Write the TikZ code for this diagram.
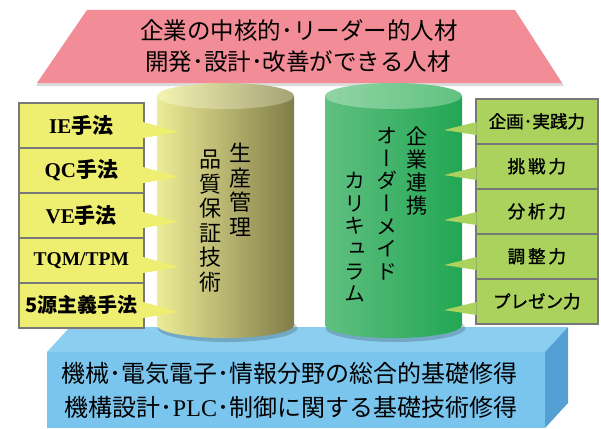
\documentclass[tikz,border=0pt]{standalone}
\usepackage{fontspec}
\setmainfont{Liberation Serif}
\newfontfamily\jp{Noto Sans CJK JP}
\newfontfamily\jpm{Noto Sans CJK JP}[FakeBold=1.3]
\newfontfamily\vjp{Noto Sans CJK JP}[RawFeature=+vert]
\usetikzlibrary{shadows,calc}
\definecolor{roofc}{RGB}{242,140,150}
\definecolor{lyel}{RGB}{238,238,112}
\definecolor{rgrn}{RGB}{170,210,92}
\definecolor{boxgray}{RGB}{120,120,120}
\definecolor{ybL}{RGB}{236,236,150}
\definecolor{ybM}{RGB}{212,208,128}
\definecolor{ybR}{RGB}{128,124,72}
\definecolor{ytL}{RGB}{244,244,178}
\definecolor{ytR}{RGB}{165,162,118}
\definecolor{gbL}{RGB}{96,192,128}
\definecolor{gbM}{RGB}{76,182,108}
\definecolor{gbR}{RGB}{34,166,84}
\definecolor{gtL}{RGB}{145,212,165}
\definecolor{gtR}{RGB}{96,194,128}
\definecolor{bfront}{RGB}{122,197,237}
\definecolor{btop}{RGB}{140,206,240}
\definecolor{bside}{RGB}{84,160,212}
\begin{document}
\begin{tikzpicture}[x=1pt,y=-1pt,
  lbox/.style={fill=lyel, draw=boxgray, line width=1.6pt, inner sep=0pt,
    minimum width=125pt, minimum height=45pt, anchor=north west,
    drop shadow={opacity=0.35, shadow xshift=1.5pt, shadow yshift=-1.5pt},
    font=\fontsize{21}{24}\selectfont\bfseries},
  rbox/.style={fill=rgrn, draw=boxgray, line width=1.6pt, inner sep=0pt,
    minimum width=122pt, minimum height=45pt, anchor=north west,
    drop shadow={opacity=0.35, shadow xshift=1.5pt, shadow yshift=-1.5pt},
    font=\jpm\fontsize{17.5}{20}\selectfont},
  vtext/.style={font=\vjp\fontsize{22}{24.5}\selectfont, align=center, inner sep=0pt, anchor=north},
  vtextg/.style={font=\vjp\fontsize{21}{22.7}\selectfont, align=center, inner sep=0pt, anchor=north},
  bigtext/.style={font=\jp\fontsize{23.5}{26}\selectfont, inner sep=0pt},
  basetext/.style={font=\jp\fontsize{24}{26}\selectfont, inner sep=0pt}
]
\useasboundingbox (0,0) rectangle (601,428);
\fill[white] (0,0) rectangle (601,428);

% roof
\fill[black!40, opacity=0.35] (88,12) -- (516,12) -- (564,86) -- (36,86) -- cycle;
\fill[roofc] (87,10) -- (515,10) -- (562,83) -- (37,83) -- cycle;
\node[bigtext] (t1) at (299,31) {企業の中核的･リーダー的人材};
\node[bigtext] (t2) at (298,62) {開発･設計･改善ができる人材};

% base block
\fill[btop] (47,352) -- (70,327) -- (568,327) -- (545,352) -- cycle;
\fill[bside] (545,352) -- (568,327) -- (568,403) -- (545,428) -- cycle;
\fill[bfront] (47,352) rectangle (545,428);
\node[basetext] (b1) at (289,373) {機械･電気電子･情報分野の総合的基礎修得};
\node[basetext] (b2) at (291,407) {機構設計･{\rmfamily PLC}･制御に関する基礎技術修得};

% cylinder shadows
\fill[black, opacity=0.18] (227.5,328) ellipse [x radius=70, y radius=14];
\fill[black, opacity=0.18] (395.5,328) ellipse [x radius=70, y radius=14];

% yellow cylinder
\shade[left color=ybL, middle color=ybM, right color=ybR] (157,96) rectangle (294,325);
\shade[left color=ybL, middle color=ybM, right color=ybR] (225.5,325) ellipse [x radius=68.5, y radius=13];
\shade[left color=ytL, right color=ytR] (225.5,96) ellipse [x radius=68.5, y radius=13];
\node[vtext] (y1) at (240,143) {生\\産\\管\\理};
\node[vtext] (y2) at (210,150) {品\\質\\保\\証\\技\\術};

% green cylinder
\shade[left color=gbL, middle color=gbM, right color=gbR] (325,96) rectangle (462,325);
\shade[left color=gbL, middle color=gbM, right color=gbR] (393.5,325) ellipse [x radius=68.5, y radius=13];
\shade[left color=gtL, right color=gtR] (393.5,96) ellipse [x radius=68.5, y radius=13];
\node[vtextg] (g1) at (417,127) {企\\業\\連\\携};
\node[vtextg] (g2) at (387,127) {オ\\ー\\ダ\\ー\\メ\\イ\\ド};
\node[vtextg] (g3) at (355,172) {カ\\リ\\キ\\ュ\\ラ\\ム};

% left callouts
\foreach \i/\t [count=\k] in {102/{IE{\jp 手法}}, 147/{QC{\jp 手法}}, 192/{VE{\jp 手法}}, 237/{\fontsize{19.5}{22}\selectfont TQM/TPM}, 282/{\jp\fontsize{20}{22}\selectfont 5源主義手法}} {
  \node[lbox] (l\k) at (18,\i) {\t};
  \fill[lyel] ($(l\k.north east)+(-1.5,20)$) -- ($(l\k.north east)+(34,30)$) -- ($(l\k.north east)+(-1.5,36)$) -- cycle;
}

% right callouts
\foreach \i/\t [count=\k] in {98/{企画･実践力}, 143/{挑\,戦\,力}, 188/{分\,析\,力}, 233/{調\,整\,力}, 278/{プレゼン力}} {
  \node[rbox] (r\k) at (475,\i) {\t};
  \fill[rgrn] ($(r\k.north west)+(1.5,24)$) -- ($(r\k.north west)+(-31,32)$) -- ($(r\k.north west)+(1.5,37)$) -- cycle;
}
\end{tikzpicture}
\end{document}
